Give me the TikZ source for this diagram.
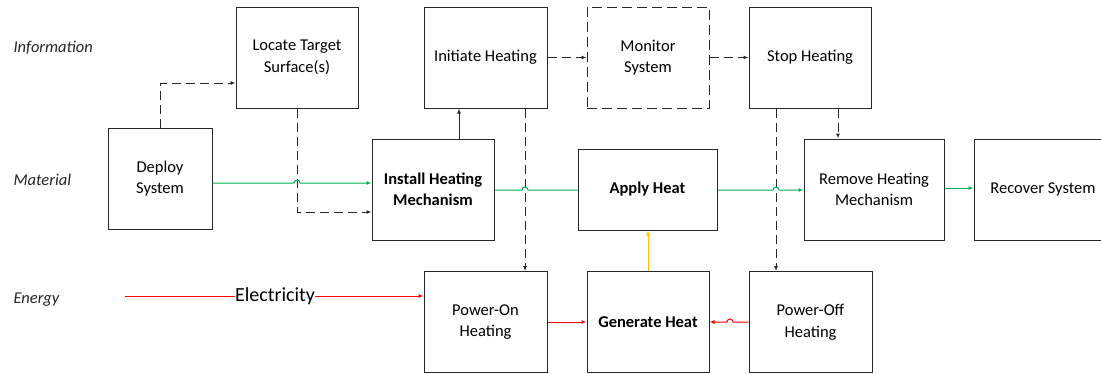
\documentclass[tikz,border=0pt]{standalone}
\usepackage{fontspec}
\setmainfont{Carlito}
\usetikzlibrary{arrows.meta,calc}
\definecolor{flowgreen}{RGB}{0,176,80}
\definecolor{flowred}{RGB}{255,0,0}
\definecolor{floworange}{RGB}{255,192,0}
\tikzset{
  box/.style={draw=black!85, line width=1pt, fill=white, align=center, inner sep=2pt,
    font=\fontsize{16.5}{21.5}\selectfont},
  dbox/.style={box, dash pattern=on 10pt off 5pt},
  lane/.style={anchor=west, font=\fontsize{16.5}{20}\selectfont\itshape, text=black!85},
  tip/.style={-{Latex[length=5pt,width=4pt]}},
  infoline/.style={draw=black!85, line width=1pt, dash pattern=on 9pt off 5pt, tip},
  solidline/.style={draw=black!85, line width=1pt, tip},
  matline/.style={draw=flowgreen, line width=1pt},
  enline/.style={draw=flowred, line width=1pt},
  heatline/.style={draw=floworange, line width=1pt, tip},
}
\begin{document}
\begin{tikzpicture}[x=1pt,y=-1pt]
\useasboundingbox (0,0) rectangle (1101,373);
% lane labels
\node[lane] (lInfo) at (10,48) {Information};
\node[lane] (lMat) at (10,180) {Material};
\node[lane] (lEn) at (10,300) {Energy};
% boxes
\node[box, minimum width=104pt, minimum height=101pt] (deploy) at (160,178.5) {Deploy\\System};
\node[box, minimum width=122pt, minimum height=101pt] (locate) at (297,57.5) {Locate Target\\Surface(s)};
\node[box, minimum width=122pt, minimum height=101pt, font=\fontsize{16.5}{21.5}\selectfont\bfseries] (install) at (433,189.5) {Install Heating\\Mechanism};
\node[box, minimum width=123pt, minimum height=101pt] (initiate) at (485.5,57.5) {Initiate Heating};
\node[dbox, minimum width=122pt, minimum height=101pt] (monitor) at (648,57.5) {Monitor\\System};
\node[box, minimum width=122pt, minimum height=101pt] (stop) at (810,57.5) {Stop Heating};
\node[box, minimum width=139pt, minimum height=81pt, font=\fontsize{16.5}{21.5}\selectfont\bfseries] (apply) at (647.5,189.5) {Apply Heat};
\node[box, minimum width=140pt, minimum height=101pt] (remove) at (874,189.5) {Remove Heating\\Mechanism};
\node[box, minimum width=138pt, minimum height=101pt] (recover) at (1043,189.5) {Recover System};
\node[box, minimum width=123pt, minimum height=101pt] (poweron) at (485.5,322) {Power-On\\Heating};
\node[box, minimum width=122pt, minimum height=101pt, font=\fontsize{16.5}{21.5}\selectfont\bfseries] (generate) at (648,322) {Generate Heat};
\node[box, minimum width=123pt, minimum height=101pt] (poweroff) at (810.5,322) {Power-Off\\Heating};
% electricity
\coordinate (elecstart) at (125,296);
\node[inner sep=0pt, font=\fontsize{20}{24}\selectfont] (elec) at (275,296) {Electricity};
\draw[enline] (elecstart) -- (elec.west);
\draw[enline, tip] (elec.east) -- (elec.east -| poweron.west);
% information flows
\draw[infoline] (deploy.north) |- ($(locate.west)+(0,25.5)$);
\draw[infoline] (locate.south) |- ($(install.west)+(0,22.5)$);
\draw[solidline] (install.north -| 459,0) -- (initiate.south -| 459,0);
\draw[infoline] (initiate.east) -- (monitor.west);
\draw[infoline] (monitor.east) -- (stop.west);
\draw[infoline] (initiate.south -| 525,0) -- (poweron.north -| 525,0);
\draw[infoline] (stop.south -| 838,0) -- (remove.north -| 838,0);
\draw[infoline] (stop.south -| 776,0) -- (poweroff.north -| 776,0);
% material flows
\draw[matline, tip] ($(deploy.east)+(0,4.5)$) -- (294,183) arc[start angle=180, end angle=360, radius=3] -- (install.west |- 0,183);
\draw[matline] (install.east |- 0,190) -- (522,190) arc[start angle=180, end angle=360, radius=3] -- (apply.west |- 0,190);
\draw[matline, tip] (apply.east |- 0,190) -- (773,190) arc[start angle=180, end angle=360, radius=3] -- (remove.west |- 0,190);
\draw[matline, tip] (remove.east |- 0,188) -- (recover.west |- 0,188);
% energy flows
\draw[heatline] (generate.north) -- (apply.south -| generate.north);
\draw[enline, tip] (poweron.east) -- (generate.west);
\draw[enline, tip] (poweroff.west) -- (733,322) arc[start angle=0, end angle=-180, radius=3] -- (generate.east);
\end{tikzpicture}
\end{document}
